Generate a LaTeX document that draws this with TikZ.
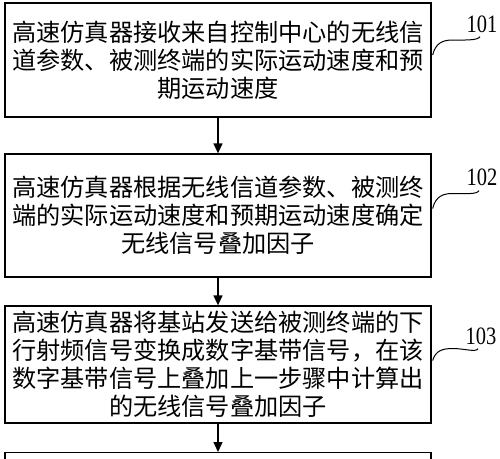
\documentclass[tikz,border=0pt]{standalone}
\usepackage{fontspec}
\setmainfont{Liberation Serif}
\newfontfamily\cjk{Noto Sans CJK SC}
\newfontfamily\numfont[FakeStretch=0.82]{Liberation Serif}
\usetikzlibrary{arrows.meta,calc}

\tikzset{
  stepbox/.style={draw,line width=1.3pt,text width=412pt,align=center,
    inner xsep=7pt,font=\cjk\fontsize{24.2}{28}\selectfont},
  steplabel/.style={font=\numfont\fontsize{25}{25}\selectfont,inner sep=0pt},
  flow/.style={line width=1.3pt,-{Triangle[length=10pt,width=9pt]}},
  tag/.style={line width=1pt}
}

\begin{document}
\begin{tikzpicture}[x=1pt,y=-1pt]
  \useasboundingbox (0,0) rectangle (500,458);
  \clip (0,0) rectangle (500,458);
  \fill[white] (0,0) rectangle (500,458);

  % steps
  \node[stepbox,minimum height=114pt] (b1) at (218,60)
    {高速仿真器接收来自控制中心的无线信\\道参数、被测终端的实际运动速度和预\\期运动速度};
  \node[stepbox,minimum height=123pt] (b2) at (218,215.5)
    {高速仿真器根据无线信道参数、被测终\\端的实际运动速度和预期运动速度确定\\无线信号叠加因子};
  \node[stepbox,minimum height=117pt] (b3) at (218,364.5)
    {高速仿真器将基站发送给被测终端的下\\行射频信号变换成数字基带信号，在该\\数字基带信号上叠加上一步骤中计算出\\的无线信号叠加因子};
  \node[stepbox,anchor=north,inner ysep=3pt,minimum height=100pt] (b4) at (218,452)
    {高速仿真器将数字基带信号变换成下行};

  \draw[flow] (b1.south) -- (b2.north);
  \draw[flow] (b2.south) -- (b3.north);
  \draw[flow] (b3.south) -- (b4.north);

  % step numbers
  \node[steplabel] (l1) at (482,24) {101};
  \node[steplabel] (l2) at (482,177) {102};
  \node[steplabel] (l3) at (481,336) {103};

  \draw[tag] ($(b1.east)+(1,-5)$) .. controls +(3,-12) and +(-10,0) .. ++(20,-15)
    .. controls +(12,0) and +(-2,4) .. ($(l1.south)+(-2,4)$);
  \draw[tag] ($(b2.east)+(1,-7)$) .. controls +(3,-12) and +(-10,0) .. ++(20,-15)
    .. controls +(12,0) and +(-2,4) .. ($(l2.south)+(-3,5)$);
  \draw[tag] ($(b3.east)+(1,-4)$) .. controls +(3,-10) and +(-10,0) .. ++(20,-12)
    .. controls +(12,0) and +(-2,4) .. ($(l3.south)+(-3,4)$);
\end{tikzpicture}
\end{document}
